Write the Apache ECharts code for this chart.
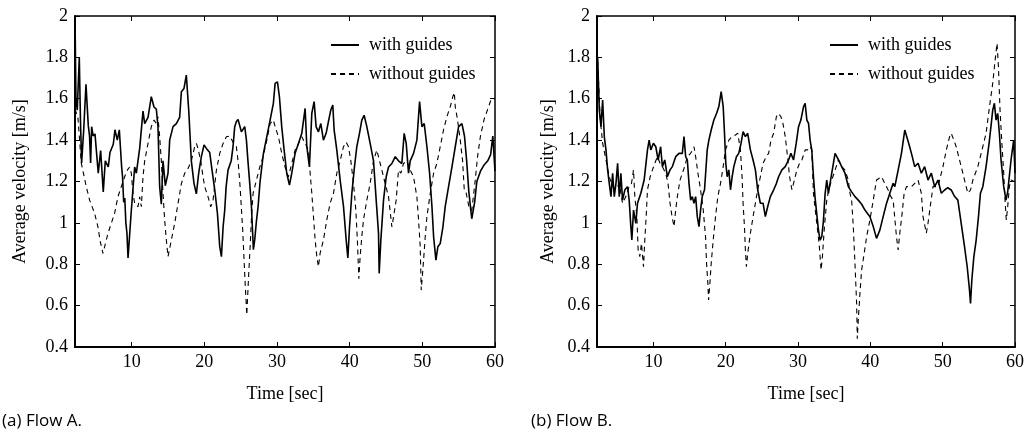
<!DOCTYPE html>
<html>
<head>
<meta charset="utf-8">
<script src="https://cdn.jsdelivr.net/npm/echarts@6/dist/echarts.min.js"></script>
<style>
html,body{margin:0;padding:0;background:#fff;}
#chart{width:1027px;height:435px;}
</style>
</head>
<body>
<div id="chart"></div>
<script>
// ---------- data (time [s], average velocity [m/s]) ----------
const xTicks = [10, 20, 30, 40, 50, 60];
const legendNames = ['with guides', 'without guides'];

const flowAWith = [[2.2,2.0],[2.33,1.6],[2.51,1.545],[2.79,1.8],[2.95,1.5],[3.11,1.29],[3.4,1.45],[3.71,1.67],[4.03,1.47],[4.2,1.42],[4.35,1.29],[4.49,1.465],[4.7,1.42],[4.95,1.43],[5.17,1.43],[5.4,1.24],[5.73,1.35],[6.09,1.15],[6.37,1.3],[6.78,1.27],[7.01,1.34],[7.47,1.38],[7.7,1.45],[8.02,1.4],[8.3,1.45],[8.62,1.27],[8.75,1.22],[8.9,1.1],[9.05,1.12],[9.2,1.0],[9.35,0.95],[9.5,0.83],[9.95,1.06],[10.41,1.27],[10.64,1.24],[11.1,1.36],[11.56,1.54],[11.79,1.48],[12.25,1.51],[12.7,1.61],[13.07,1.56],[13.39,1.55],[13.62,1.465],[13.85,1.175],[14.08,1.09],[14.31,1.3],[14.63,1.18],[15.0,1.24],[15.23,1.4],[15.69,1.465],[16.15,1.48],[16.6,1.51],[16.84,1.634],[17.2,1.65],[17.52,1.714],[17.85,1.545],[18.21,1.3],[18.58,1.19],[18.9,1.14],[19.22,1.24],[19.59,1.32],[19.96,1.377],[20.28,1.36],[20.74,1.34],[21.06,1.255],[21.43,1.16],[21.8,1.046],[22.12,0.885],[22.35,0.837],[22.58,0.98],[22.8,1.06],[23.0,1.175],[23.26,1.255],[23.7,1.3],[23.95,1.37],[24.18,1.465],[24.41,1.49],[24.64,1.5],[25.1,1.44],[25.56,1.465],[25.79,1.4],[26.02,1.29],[26.25,1.19],[26.48,1.08],[26.75,0.87],[26.94,0.92],[27.17,1.01],[27.4,1.08],[27.67,1.2],[28.13,1.336],[28.59,1.416],[29.05,1.497],[29.5,1.578],[29.74,1.674],[30.06,1.682],[30.33,1.61],[30.65,1.465],[30.98,1.352],[31.34,1.24],[31.71,1.183],[32.03,1.24],[32.49,1.336],[32.95,1.384],[33.41,1.433],[33.87,1.553],[34.1,1.37],[34.46,1.27],[34.79,1.53],[35.11,1.586],[35.38,1.465],[35.7,1.44],[36.03,1.48],[36.39,1.4],[36.76,1.433],[37.08,1.49],[37.4,1.545],[37.68,1.57],[37.86,1.45],[38.23,1.352],[38.69,1.207],[39.15,1.08],[39.52,0.917],[39.75,0.83],[39.98,0.98],[40.3,1.143],[40.66,1.27],[40.98,1.368],[41.35,1.433],[41.67,1.497],[41.99,1.52],[42.36,1.465],[42.82,1.384],[43.28,1.3],[43.65,1.11],[43.97,0.95],[44.06,0.756],[44.29,0.917],[44.66,1.11],[45.03,1.223],[45.35,1.27],[45.81,1.287],[46.27,1.32],[46.72,1.3],[47.18,1.287],[47.5,1.433],[47.78,1.384],[48.1,1.24],[48.33,1.3],[48.79,1.336],[49.25,1.4],[49.62,1.586],[49.94,1.465],[50.26,1.48],[50.63,1.368],[51.0,1.24],[51.32,1.08],[51.55,0.933],[51.87,0.82],[52.14,0.885],[52.46,0.9],[52.83,0.98],[53.15,1.08],[53.61,1.175],[54.07,1.27],[54.53,1.368],[54.99,1.465],[55.45,1.48],[55.8,1.42],[56.1,1.3],[56.4,1.15],[56.8,1.02],[57.2,1.1],[57.5,1.2],[58.0,1.25],[58.5,1.28],[59.0,1.3],[59.4,1.33],[59.7,1.42],[60.0,1.25]];

const flowAWithout = [[2.2,1.55],[2.6,1.51],[3.06,1.29],[3.75,1.175],[4.21,1.11],[4.9,1.046],[5.36,0.98],[5.68,0.909],[6.05,0.852],[6.28,0.885],[6.74,0.95],[7.2,0.998],[7.65,1.046],[8.11,1.126],[8.57,1.175],[9.03,1.223],[9.4,1.255],[9.72,1.27],[9.95,1.24],[10.18,1.143],[10.41,1.094],[10.87,1.078],[11.1,1.126],[11.33,1.078],[11.56,1.223],[11.79,1.3],[12.25,1.384],[12.7,1.465],[13.07,1.497],[13.39,1.48],[13.62,1.513],[13.85,1.416],[14.08,1.3],[14.31,1.143],[14.54,1.014],[14.77,0.917],[15.0,0.837],[15.23,0.845],[15.46,0.917],[15.92,0.998],[16.38,1.094],[16.84,1.19],[17.3,1.24],[17.76,1.263],[18.21,1.3],[18.67,1.368],[18.9,1.384],[19.13,1.36],[19.5,1.3],[19.82,1.223],[20.05,1.175],[20.51,1.126],[20.88,1.078],[21.2,1.11],[21.66,1.255],[22.12,1.336],[22.58,1.384],[23.03,1.416],[23.49,1.42],[23.95,1.39],[24.41,1.368],[24.64,1.3],[24.92,1.175],[25.28,0.965],[25.6,0.72],[25.84,0.555],[26.06,0.72],[26.3,0.885],[26.52,1.046],[26.71,1.143],[27.17,1.207],[27.63,1.27],[28.08,1.32],[28.6,1.4],[29.05,1.48],[29.5,1.497],[29.74,1.465],[30.2,1.416],[30.65,1.336],[31.11,1.27],[31.57,1.223],[32.03,1.287],[32.49,1.352],[32.95,1.384],[33.41,1.416],[33.87,1.384],[34.33,1.352],[34.56,1.24],[34.79,1.143],[35.02,1.03],[35.25,0.917],[35.48,0.837],[35.7,0.788],[35.93,0.853],[36.39,0.917],[36.85,1.014],[37.31,1.094],[37.77,1.143],[38.23,1.24],[38.69,1.3],[39.15,1.368],[39.52,1.39],[39.84,1.368],[40.16,1.3],[40.53,1.19],[40.85,1.062],[41.08,0.9],[41.26,0.73],[41.44,0.837],[41.67,0.933],[41.9,1.014],[42.36,1.11],[42.82,1.19],[43.28,1.3],[43.74,1.352],[44.11,1.3],[44.43,1.255],[44.89,1.19],[45.35,1.126],[45.81,0.98],[46.04,1.03],[46.4,1.11],[46.72,1.255],[47.05,1.24],[47.41,1.287],[47.87,1.3],[48.33,1.255],[48.79,1.223],[49.25,1.126],[49.48,1.014],[49.71,0.885],[49.85,0.675],[50.17,0.82],[50.4,0.933],[50.63,1.03],[51.09,1.143],[51.55,1.24],[52.0,1.287],[52.46,1.368],[52.92,1.45],[53.38,1.513],[53.84,1.561],[54.2,1.61],[54.4,1.63],[54.53,1.561],[54.85,1.497],[55.22,1.4],[55.54,1.3],[55.77,1.16],[56.0,1.15],[56.4,1.08],[56.8,1.06],[57.2,1.18],[57.6,1.32],[58.0,1.42],[58.5,1.5],[59.0,1.55],[59.5,1.6],[60.0,1.6]];

const flowBWith = [[2.2,1.72],[2.29,1.8],[2.52,1.546],[2.75,1.465],[2.98,1.594],[3.21,1.417],[3.44,1.353],[3.67,1.256],[3.9,1.19],[4.13,1.127],[4.36,1.24],[4.59,1.127],[4.82,1.19],[5.05,1.288],[5.28,1.127],[5.5,1.24],[5.73,1.11],[6.06,1.16],[6.42,1.175],[6.65,1.11],[6.88,0.982],[7.02,0.917],[7.25,1.062],[7.57,0.998],[7.8,1.095],[8.26,1.143],[8.72,1.207],[9.18,1.353],[9.41,1.4],[9.64,1.353],[10.0,1.385],[10.33,1.368],[10.65,1.304],[11.0,1.368],[11.24,1.272],[11.57,1.304],[11.93,1.223],[12.3,1.256],[12.62,1.272],[13.08,1.32],[13.54,1.336],[14.0,1.336],[14.23,1.417],[14.46,1.32],[14.69,1.304],[14.92,1.191],[15.15,1.11],[15.38,1.127],[15.61,1.095],[15.84,1.127],[16.07,1.03],[16.3,0.982],[16.52,1.062],[16.75,1.127],[17.07,1.16],[17.44,1.353],[17.67,1.4],[17.99,1.449],[18.36,1.497],[18.73,1.529],[19.05,1.562],[19.37,1.634],[19.65,1.562],[19.83,1.433],[20.01,1.288],[20.2,1.223],[20.43,1.256],[20.66,1.16],[20.89,1.223],[21.12,1.272],[21.48,1.32],[21.8,1.336],[22.12,1.385],[22.4,1.441],[22.72,1.417],[23.04,1.433],[23.41,1.353],[23.78,1.304],[24.1,1.256],[24.42,1.16],[24.79,1.095],[25.16,1.095],[25.48,1.03],[25.8,1.078],[26.17,1.127],[26.63,1.16],[27.0,1.19],[27.31,1.223],[27.77,1.256],[28.23,1.272],[28.69,1.304],[29.01,1.336],[29.38,1.304],[29.75,1.385],[30.07,1.465],[30.39,1.497],[30.76,1.562],[30.98,1.578],[31.22,1.497],[31.45,1.481],[31.67,1.4],[31.9,1.352],[32.13,1.223],[32.36,1.12],[32.82,0.965],[33.05,0.917],[33.28,0.933],[33.51,1.01],[33.74,1.14],[33.97,1.207],[34.2,1.143],[34.66,1.24],[35.12,1.336],[35.35,1.344],[35.67,1.3],[36.03,1.272],[36.49,1.24],[36.95,1.175],[37.41,1.15],[37.87,1.127],[38.33,1.11],[38.8,1.09],[39.25,1.062],[39.94,1.03],[40.4,0.982],[40.85,0.925],[41.31,0.965],[41.77,1.03],[42.23,1.094],[42.69,1.143],[43.15,1.191],[43.38,1.175],[43.84,1.255],[44.3,1.336],[44.76,1.449],[44.99,1.457],[45.31,1.384],[45.68,1.336],[46.13,1.272],[46.6,1.288],[47.05,1.24],[47.51,1.272],[47.97,1.207],[48.43,1.24],[48.89,1.175],[49.35,1.207],[49.81,1.143],[50.27,1.159],[50.7,1.17],[51.18,1.159],[51.6,1.13],[52.1,1.11],[52.56,0.998],[53.02,0.885],[53.39,0.788],[53.71,0.675],[53.85,0.61],[54.03,0.724],[54.31,0.836],[54.63,0.917],[54.95,1.03],[55.22,1.143],[55.55,1.175],[56.0,1.272],[56.47,1.4],[56.92,1.545],[57.15,1.578],[57.38,1.497],[57.61,1.529],[57.84,1.433],[58.07,1.304],[58.44,1.175],[58.76,1.11],[58.99,1.15],[59.45,1.304],[59.82,1.4],[60.0,1.24]];

const flowBWithout = [[2.2,1.868],[2.38,1.707],[2.66,1.497],[2.98,1.385],[3.44,1.304],[3.9,1.223],[4.36,1.175],[4.82,1.16],[5.28,1.191],[5.73,1.095],[6.19,1.127],[6.65,1.175],[6.97,1.191],[7.25,1.256],[7.43,1.127],[7.71,1.03],[7.89,0.869],[8.12,0.837],[8.35,0.901],[8.63,0.788],[8.81,0.917],[9.0,1.03],[9.18,1.16],[9.55,1.223],[9.87,1.256],[10.19,1.288],[10.56,1.32],[10.92,1.288],[11.24,1.272],[11.7,1.24],[12.02,1.191],[12.3,1.095],[12.58,1.03],[12.85,0.982],[13.08,1.062],[13.31,1.127],[13.68,1.207],[14.0,1.24],[14.32,1.272],[14.69,1.32],[15.15,1.336],[15.61,1.368],[15.84,1.32],[16.16,1.24],[16.52,1.16],[16.89,1.062],[17.21,0.933],[17.35,0.804],[17.53,0.708],[17.63,0.627],[17.81,0.708],[17.99,0.804],[18.27,0.917],[18.59,1.03],[18.91,1.127],[19.28,1.191],[19.65,1.272],[19.97,1.353],[20.43,1.4],[20.89,1.417],[21.34,1.425],[21.67,1.433],[22.03,1.353],[22.26,1.223],[22.4,1.095],[22.59,0.982],[22.72,0.869],[22.86,0.788],[23.04,0.853],[23.23,0.901],[23.41,0.95],[23.78,1.03],[24.1,1.095],[24.42,1.16],[24.79,1.223],[25.16,1.288],[25.61,1.32],[25.93,1.336],[26.26,1.4],[26.63,1.433],[27.0,1.513],[27.31,1.529],[27.64,1.513],[27.91,1.481],[28.23,1.417],[28.55,1.32],[28.83,1.223],[29.15,1.16],[29.38,1.191],[29.84,1.256],[30.21,1.288],[30.53,1.304],[30.99,1.353],[31.31,1.353],[31.67,1.368],[31.9,1.352],[32.13,1.143],[32.59,0.998],[32.91,0.901],[33.19,0.772],[33.37,0.836],[33.65,0.982],[33.97,1.11],[34.3,1.17],[34.66,1.207],[35.12,1.255],[35.57,1.304],[36.03,1.272],[36.49,1.255],[36.95,1.207],[37.18,1.143],[37.41,1.11],[37.64,0.982],[37.87,0.804],[38.1,0.611],[38.19,0.44],[38.33,0.53],[38.56,0.66],[38.79,0.772],[39.15,0.853],[39.48,0.933],[39.94,1.014],[40.4,1.11],[40.85,1.207],[41.08,1.207],[41.54,1.223],[42.0,1.191],[42.46,1.159],[42.83,1.127],[43.15,1.11],[43.61,0.933],[43.84,0.869],[44.07,0.95],[44.39,1.046],[44.67,1.143],[44.99,1.175],[45.68,1.175],[46.6,1.207],[47.05,1.143],[47.28,1.03],[47.74,0.95],[47.97,0.998],[48.34,1.094],[48.66,1.175],[49.35,1.175],[50.04,1.272],[50.5,1.352],[50.96,1.417],[51.18,1.433],[51.55,1.4],[51.87,1.368],[52.33,1.304],[52.79,1.24],[53.25,1.175],[53.48,1.143],[53.85,1.159],[54.17,1.207],[54.86,1.272],[55.55,1.368],[56.0,1.433],[56.47,1.561],[56.92,1.674],[57.25,1.787],[57.52,1.868],[57.71,1.755],[57.93,1.545],[58.16,1.4],[58.44,1.24],[58.62,1.11],[58.8,1.014],[58.99,1.078],[59.22,1.175],[59.45,1.207],[59.9,1.2]];

// ---------- styling ----------
const SERIF = 'Liberation Serif';
const INK = '#000';
const X_MIN = 2.2, X_MAX = 60, Y_MIN = 0.4, Y_MAX = 2, Y_STEP = 0.2;

function bottomX(g) {
  return {
    gridIndex: g, type: 'value', min: X_MIN, max: X_MAX, position: 'bottom',
    axisLine: { show: true, onZero: false, lineStyle: { color: INK, width: 2 } },
    axisTick: { show: true, inside: true, length: 5, customValues: xTicks, lineStyle: { color: INK, width: 1 } },
    axisLabel: { customValues: xTicks, color: INK, fontFamily: SERIF, fontSize: 18, margin: 6 },
    splitLine: { show: false },
    name: 'Time [sec]', nameLocation: 'middle', nameGap: 38,
    nameTextStyle: { color: INK, fontFamily: SERIF, fontSize: 18 }
  };
}
function topX(g) {
  return {
    gridIndex: g, type: 'value', min: X_MIN, max: X_MAX, position: 'top',
    axisLine: { show: true, onZero: false, lineStyle: { color: INK, width: 1.5 } },
    axisTick: { show: true, inside: true, length: 5, customValues: xTicks, lineStyle: { color: INK, width: 1 } },
    axisLabel: { show: false }, splitLine: { show: false }
  };
}
function leftY(g, gap) {
  return {
    gridIndex: g, type: 'value', min: Y_MIN, max: Y_MAX, interval: Y_STEP, position: 'left',
    axisLine: { show: true, onZero: false, lineStyle: { color: INK, width: 2 } },
    axisTick: { show: true, inside: true, length: 5, lineStyle: { color: INK, width: 1 } },
    axisLabel: { color: INK, fontFamily: SERIF, fontSize: 18, margin: 7 },
    splitLine: { show: false },
    name: 'Average velocity [m/s]', nameLocation: 'middle', nameGap: gap, nameRotate: 90,
    nameTextStyle: { color: INK, fontFamily: SERIF, fontSize: 18 }
  };
}
function rightY(g) {
  return {
    gridIndex: g, type: 'value', min: Y_MIN, max: Y_MAX, interval: Y_STEP, position: 'right',
    axisLine: { show: true, onZero: false, lineStyle: { color: INK, width: 1.5 } },
    axisTick: { show: true, inside: true, length: 5, lineStyle: { color: INK, width: 1 } },
    axisLabel: { show: false }, splitLine: { show: false }
  };
}
function solid(name, data, xi, yi) {
  return { type: 'line', name, data, xAxisIndex: xi, yAxisIndex: yi, symbol: 'none', showSymbol: false,
    lineStyle: { color: INK, width: 1.6 }, itemStyle: { color: INK }, z: 3 };
}
function dashed(name, data, xi, yi) {
  return { type: 'line', name, data, xAxisIndex: xi, yAxisIndex: yi, symbol: 'none', showSymbol: false,
    lineStyle: { color: INK, width: 1.1, type: [5, 4] }, itemStyle: { color: INK }, z: 2 };
}
function legendAt(left) {
  return {
    data: legendNames, orient: 'vertical', left: left, top: 36, padding: 0,
    itemWidth: 28, itemHeight: 14, itemGap: 11, selectedMode: false,
    itemStyle: { opacity: 0, borderWidth: 0 },
    textStyle: { color: INK, fontFamily: SERIF, fontSize: 18, padding: [0, 0, 0, 5] }
  };
}

const chart = echarts.init(document.getElementById('chart'), null, { renderer: 'canvas' });
chart.setOption({
  animation: false,
  backgroundColor: '#fff',
  title: [
    { text: '(a) Flow A.', left: 2, top: 413, padding: 0,
      textStyle: { color: INK, fontFamily: 'Open Sans', fontSize: 17, fontWeight: 'normal' } },
    { text: '(b) Flow B.', left: 531, top: 413, padding: 0,
      textStyle: { color: INK, fontFamily: 'Open Sans', fontSize: 17, fontWeight: 'normal' } }
  ],
  legend: [legendAt(330), legendAt(829)],
  grid: [
    { left: 75, top: 16, width: 420, height: 331, containLabel: false },
    { left: 597, top: 16, width: 420, height: 331, containLabel: false }
  ],
  xAxis: [bottomX(0), topX(0), bottomX(1), topX(1)],
  yAxis: [leftY(0, 46), rightY(0), leftY(1, 40), rightY(1)],
  series: [
    solid(legendNames[0], flowAWith, 0, 0),
    dashed(legendNames[1], flowAWithout, 0, 0),
    solid(legendNames[0], flowBWith, 2, 2),
    dashed(legendNames[1], flowBWithout, 2, 2)
  ]
});
</script>
</body>
</html>
